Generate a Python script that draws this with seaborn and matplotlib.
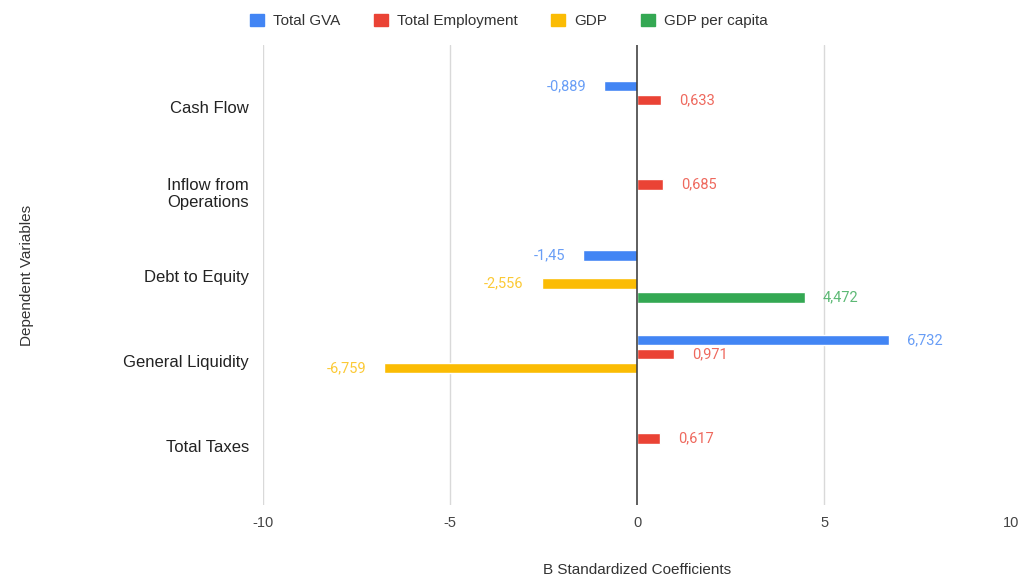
import matplotlib
matplotlib.use("Agg")
import matplotlib.pyplot as plt
import seaborn as sns
import pandas as pd
import numpy as np
from matplotlib.patches import Patch

categories = ["Cash Flow", "Inflow from\nOperations", "Debt to Equity", "General Liquidity", "Total Taxes"]
series = ["Total GVA", "Total Employment", "GDP", "GDP per capita"]
colors = ["#4285F4", "#EA4335", "#FBBC04", "#34A853"]

total_gva = [-0.889, np.nan, -1.45, 6.732, np.nan]
total_employment = [0.633, 0.685, np.nan, 0.971, 0.617]
gdp = [np.nan, np.nan, -2.556, -6.759, np.nan]
gdp_per_capita = [np.nan, np.nan, 4.472, np.nan, np.nan]

x_ticks = [-10, -5, 0, 5, 10]

rows = []
for s, vals in zip(series, [total_gva, total_employment, gdp, gdp_per_capita]):
    for c, v in zip(categories, vals):
        if not np.isnan(v):
            rows.append({"Category": c, "Series": s, "Value": v})
df = pd.DataFrame(rows)

sns.set_theme(style="white")
plt.rcParams['font.family'] = ['Liberation Sans', 'DejaVu Sans']

fig = plt.figure(figsize=(10.18, 5.77), dpi=100)
ax = fig.add_axes([263/1018, 1-505/577, (1011.5-263)/1018, (505-45)/577])

sns.barplot(data=df, y="Category", x="Value", hue="Series", order=categories,
            hue_order=series, palette=colors, orient="h", width=0.66, gap=0.24,
            saturation=1, errorbar=None, ax=ax, legend=False)

ax.set_xlim(-10, 10)
ax.set_ylim(4.70, -0.73)
ax.set_xticks(x_ticks)
ax.set_xticklabels([str(t) for t in x_ticks], fontsize=10.5, color="#444444")
ax.tick_params(axis="y", labelsize=12, colors="#222222", length=0, pad=10)
ax.tick_params(axis="x", length=0, pad=8)
for s in ax.spines.values():
    s.set_visible(False)
for t in x_ticks:
    if t == 0:
        ax.axvline(0, color="#333333", lw=1.1, zorder=3)
    else:
        ax.axvline(t, color="#d9d9d9", lw=1, zorder=0)

ax.set_xlabel("B Standardized Coefficients", fontsize=11, color="#333333", labelpad=24)
ax.set_ylabel("Dependent Variables", fontsize=11, color="#333333", labelpad=64)

# value labels
w = 0.66
n = len(series)
offsets = [(-w/2 + w/n*(i+0.5)) for i in range(n)]
for i, (s, vals, col) in enumerate(zip(series, [total_gva, total_employment, gdp, gdp_per_capita], colors)):
    for j, v in enumerate(vals):
        if np.isnan(v):
            continue
        y = j + offsets[i]
        txt = f"{v:g}".replace(".", ",")
        if v >= 0:
            ax.annotate(txt, (v, y), xytext=(13, 0), textcoords="offset points",
                        ha="left", va="center", fontsize=10.5, color=col, alpha=0.8,
                        family=["Roboto", "DejaVu Sans"])
        else:
            ax.annotate(txt, (v, y), xytext=(-13, 0), textcoords="offset points",
                        ha="right", va="center", fontsize=10.5, color=col, alpha=0.8,
                        family=["Roboto", "DejaVu Sans"])

handles = [Patch(facecolor=c, edgecolor=c, label=s) for s, c in zip(series, colors)]
fig.legend(handles=handles, loc="upper center", bbox_to_anchor=(0.5, 1.0), ncol=4,
           frameon=False, fontsize=11, handlelength=0.9, handleheight=0.9,
           handletextpad=0.6, columnspacing=2.2, labelcolor="#333333")

fig.savefig("out.png", dpi=100)
